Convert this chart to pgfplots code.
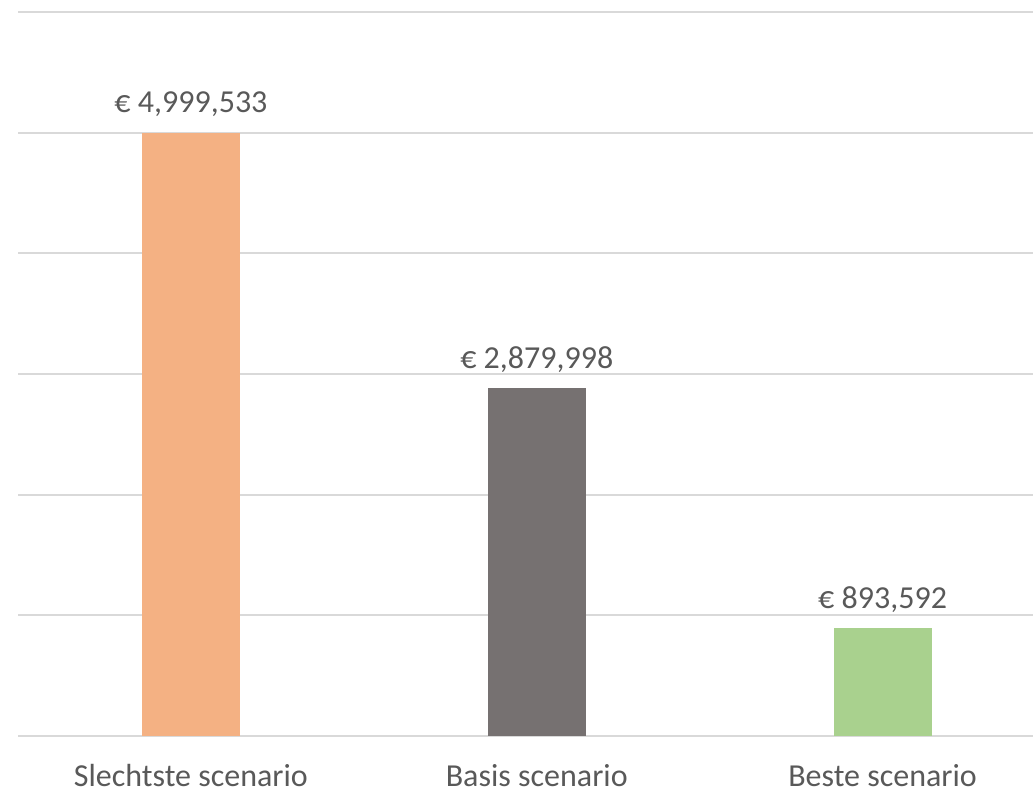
\documentclass[border=0pt]{standalone}
\usepackage{pgfplots}
\pgfplotsset{compat=1.18}
\usepackage{fontspec}
\setmainfont{Carlito}
\definecolor{txt}{HTML}{595959}
\definecolor{gridc}{HTML}{D9D9D9}
\definecolor{c1}{HTML}{F4B183}
\definecolor{c2}{HTML}{767171}
\definecolor{c3}{HTML}{A9D18E}
\begin{document}
\begin{tikzpicture}[x=1pt,y=1pt]
\begin{axis}[
  at={(18pt,54pt)}, anchor=south west,
  width=1015pt, height=724pt, scale only axis,
  xmin=-0.5, xmax=2.435, ymin=0, ymax=6000000,
  ytick={0,1000000,2000000,3000000,4000000,5000000,6000000},
  yticklabels={},
  xmajorgrids=false,
  ymajorgrids=true,
  major grid style={draw=gridc, line width=2pt},
  axis line style={draw=none},
  major tick length=0pt,
  xtick={0,1,2},
  xticklabels={Slechtste scenario, Basis scenario, Beste scenario},
  xticklabel style={anchor=base, yshift=-50pt, text=txt, text depth=0pt, inner sep=0pt, font=\fontsize{32}{36}\selectfont},
  ybar, bar width=98pt, bar shift=0pt,
  nodes near coords,
  point meta=explicit symbolic,
  every node near coord/.append style={anchor=base, yshift=20pt, text=txt, font=\fontsize{32}{36}\selectfont, inner sep=0pt},
  clip=false,
]
\addplot[fill=c1, draw=none] coordinates {(0,4999533) [€ 4,999,533]};
\addplot[fill=c2, draw=none] coordinates {(1,2879998) [€ 2,879,998]};
\addplot[fill=c3, draw=none] coordinates {(2,893592) [€ 893,592]};
\end{axis}
\pgfresetboundingbox
\path[use as bounding box] (0,0) rectangle (1033,790);
\end{tikzpicture}
\end{document}
